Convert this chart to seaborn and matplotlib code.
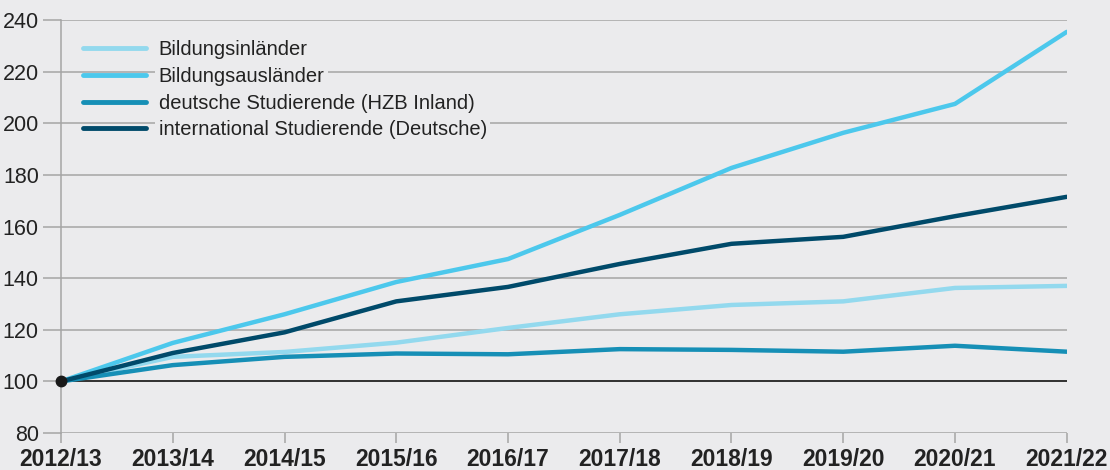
import pandas as pd
import numpy as np

import matplotlib
matplotlib.use("Agg")
import matplotlib.pyplot as plt
import seaborn as sns

semesters = ["2012/13", "2013/14", "2014/15", "2015/16", "2016/17",
             "2017/18", "2018/19", "2019/20", "2020/21", "2021/22"]

bildungsinlaender = [100, 109.5, 111.4, 115.0, 120.7, 126.0, 129.6, 131.0, 136.2, 137.0]
bildungsauslaender = [100, 114.9, 126.0, 138.5, 147.4, 164.5, 182.7, 196.3, 207.5, 235.4]
deutsche_inland = [100, 106.3, 109.5, 110.8, 110.5, 112.5, 112.2, 111.5, 113.8, 111.5]
international_deutsche = [100, 111.0, 119.0, 131.0, 136.6, 145.5, 153.3, 156.0, 164.0, 171.5]

series_names = ["Bildungsinländer", "Bildungsausländer",
                "deutsche Studierende (HZB Inland)",
                "international Studierende (Deutsche)"]
series_colors = ["#93d9ee", "#4cc8ec", "#168fb6", "#004a6a"]

y_ticks = [80, 100, 120, 140, 160, 180, 200, 220, 240]

bg = "#ebebed"
grid_col = "#a5a5a5"

df = pd.DataFrame({
    "semester": semesters * 4,
    "idx": list(range(len(semesters))) * 4,
    "value": bildungsinlaender + bildungsauslaender + deutsche_inland + international_deutsche,
    "series": np.repeat(series_names, len(semesters)),
})

sns.set_theme(style="white")
plt.rcParams["font.family"] = ["Liberation Sans", "DejaVu Sans"]

fig = plt.figure(figsize=(11.1, 4.7), dpi=100, facecolor=bg)
ax = fig.add_axes([0.055, 0.0787, 0.906, 0.8787])
ax.set_facecolor(bg)

# horizontal grid lines (the 100 line is drawn darker)
for t in y_ticks:
    if t == 100:
        ax.axhline(t, color="#222222", lw=1.3, zorder=1)
    else:
        ax.axhline(t, color=grid_col, lw=1.1, zorder=1)

sns.lineplot(data=df, x="idx", y="value", hue="series", hue_order=series_names,
             palette=series_colors, linewidth=3.2, ax=ax, zorder=3, sort=False)

ax.plot([0], [100], marker="o", ms=7.5, color="#1a1a1a", zorder=5, clip_on=False)

ax.set_xlim(0, len(semesters) - 1)
ax.set_ylim(80, 240)
ax.set_xticks(range(len(semesters)))
ax.set_xticklabels(semesters, fontsize=16.5, fontweight="bold", color="#222222")
ax.set_yticks(y_ticks)
ax.set_yticklabels([str(t) for t in y_ticks], fontsize=15.5, color="#222222")
ax.tick_params(axis="x", length=7, width=1.1, color=grid_col, pad=4, direction="out", bottom=True)
ax.tick_params(axis="y", length=13, width=1.1, color=grid_col, pad=3, direction="out", left=True)
ax.set_xlabel("")
ax.set_ylabel("")

for s in ["top", "right", "bottom"]:
    ax.spines[s].set_visible(False)
ax.spines["left"].set_color(grid_col)
ax.spines["left"].set_linewidth(1.1)

leg = ax.legend(loc="upper left", bbox_to_anchor=(0.01, 0.98), frameon=False,
                fontsize=14.5, handlelength=3.1, handletextpad=0.65,
                labelspacing=0.38, borderaxespad=0.2)
for line in leg.get_lines():
    line.set_linewidth(3.5)
for txt in leg.get_texts():
    txt.set_color("#222222")
    txt.set_bbox(dict(facecolor=bg, edgecolor="none", pad=2.5))
leg.set_zorder(4)

fig.savefig("out.png", dpi=100, facecolor=bg)
